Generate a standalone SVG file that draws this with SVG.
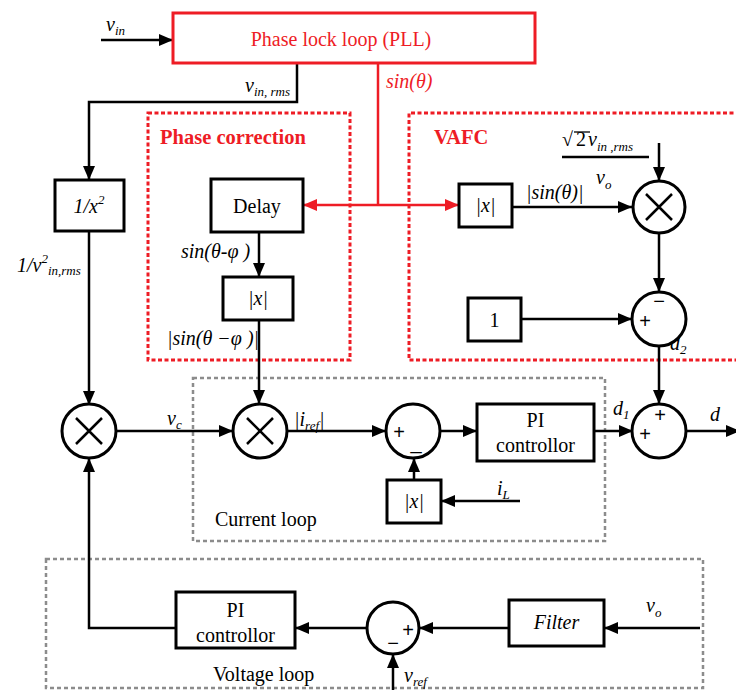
<svg xmlns="http://www.w3.org/2000/svg" width="736" height="690" viewBox="0 0 736 690" font-family="'Liberation Serif', 'Times New Roman', serif">
<style>
svg text{font-family:"Liberation Serif","Times New Roman",serif;fill:#000}
.t{font-size:20px}
.mi{font-size:20px;font-style:italic}
.sub{font-size:13px;font-style:italic}
.red{fill:#ee1c25}
.bold{font-weight:bold;font-size:20.5px}
.box{fill:#fff;stroke:#000;stroke-width:3}
.circ{fill:#fff;stroke:#000;stroke-width:3}
.ln{fill:none;stroke:#000;stroke-width:2.5}
.rln{fill:none;stroke:#ee1c25;stroke-width:2.5}
.rdash{fill:none;stroke:#ee1c25;stroke-width:3;stroke-dasharray:4 2.5}
.gdash{fill:none;stroke:#8c8c8c;stroke-width:2.5;stroke-dasharray:4 3}
svg text.sgn{font-family:"Liberation Sans",Arial,sans-serif;font-size:20px}
</style>
<defs>
<marker id="ah" viewBox="0 0 14 12" refX="14" refY="6" markerWidth="14" markerHeight="12" markerUnits="userSpaceOnUse" orient="auto"><path d="M0,0 L14,6 L0,12 z" fill="#000"/></marker>
<marker id="rah" viewBox="0 0 14 12" refX="14" refY="6" markerWidth="14" markerHeight="12" markerUnits="userSpaceOnUse" orient="auto-start-reverse"><path d="M0,0 L14,6 L0,12 z" fill="#ee1c25"/></marker>
</defs>

<!-- region frames -->
<g id="phase-correction-frame">
<rect class="rdash" x="148" y="113" width="202" height="247"/>
<text class="bold red" x="160" y="144">Phase correction</text>
</g>
<g id="vafc-frame">
<path class="rdash" d="M740,113 H409 V360 H740"/>
<text class="bold red" x="434" y="144">VAFC</text>
</g>
<g id="current-loop-frame">
<rect class="gdash" x="193" y="378" width="412" height="163"/>
<text class="t" x="215" y="526">Current loop</text>
</g>
<g id="voltage-loop-frame">
<rect class="gdash" x="46" y="559" width="657" height="129"/>
<text class="t" x="213" y="681">Voltage loop</text>
</g>

<!-- connectors -->
<g id="connectors">
<line class="ln" x1="101" y1="40" x2="173" y2="40" marker-end="url(#ah)"/>
<path class="ln" d="M297,63 V102 H89 V180" marker-end="url(#ah)"/>
<line class="rln" x1="378" y1="63" x2="378" y2="205"/>
<line class="rln" x1="303" y1="205" x2="459" y2="205" marker-start="url(#rah)" marker-end="url(#rah)"/>
<line class="ln" x1="89" y1="231" x2="89" y2="405" marker-end="url(#ah)"/>
<line class="ln" x1="259" y1="232" x2="259" y2="277" marker-end="url(#ah)"/>
<line class="ln" x1="259" y1="320" x2="259" y2="404" marker-end="url(#ah)"/>
<line class="ln" x1="116" y1="431" x2="233" y2="431" marker-end="url(#ah)"/>
<line class="ln" x1="287" y1="431" x2="386" y2="431" marker-end="url(#ah)"/>
<line class="ln" x1="440" y1="431" x2="477" y2="431" marker-end="url(#ah)"/>
<line class="ln" x1="594" y1="431" x2="633" y2="431" marker-end="url(#ah)"/>
<line class="ln" x1="686" y1="431" x2="740" y2="431" marker-end="url(#ah)"/>
<line class="ln" x1="414" y1="480" x2="414" y2="458" marker-end="url(#ah)"/>
<line class="ln" x1="520" y1="501" x2="441" y2="501" marker-end="url(#ah)"/>
<line class="ln" x1="512" y1="207" x2="632" y2="207" marker-end="url(#ah)"/>
<line class="ln" x1="659" y1="143" x2="659" y2="181" marker-end="url(#ah)"/>
<line class="ln" x1="659" y1="233" x2="659" y2="292" marker-end="url(#ah)"/>
<line class="ln" x1="521" y1="319" x2="632" y2="319" marker-end="url(#ah)"/>
<line class="ln" x1="659" y1="346" x2="659" y2="404" marker-end="url(#ah)"/>
<line class="ln" x1="700" y1="628" x2="604" y2="628" marker-end="url(#ah)"/>
<line class="ln" x1="509" y1="628" x2="419" y2="628" marker-end="url(#ah)"/>
<line class="ln" x1="367" y1="628" x2="295" y2="628" marker-end="url(#ah)"/>
<path class="ln" d="M176,628 H89 V458" marker-end="url(#ah)"/>
<line class="ln" x1="393" y1="690" x2="393" y2="654" marker-end="url(#ah)"/>
<line class="ln" x1="562" y1="157" x2="649" y2="157"/>
</g>

<!-- connector labels -->
<g id="labels">
<text class="mi" x="106" y="31">v<tspan class="sub" dy="4">in</tspan></text>
<text class="mi" x="245" y="92">v<tspan class="sub" dy="4">in, rms</tspan></text>
<text class="mi red" x="386" y="88">sin(θ)</text>
<text class="mi" x="17" y="272">1/v<tspan class="sub" dy="-9">2</tspan><tspan class="sub" dy="12">in,rms</tspan></text>
<text class="mi" x="181" y="258">sin(θ-φ )</text>
<text class="mi" x="167" y="345">|sin(θ −φ )|</text>
<text class="mi" x="526" y="199">|sin(θ)|</text>
<text class="t" x="562" y="146">√</text>
<line x1="574" y1="132" x2="590" y2="132" stroke="#000" stroke-width="1.3"/>
<text class="t" x="576" y="146">2</text>
<text class="mi" x="588" y="146" font-size="22">v<tspan class="sub" dy="5">in ,rms</tspan></text>
<text class="mi" x="596" y="184">v<tspan class="sub" dy="5">o</tspan></text>
<text class="mi" x="670" y="350">d<tspan class="sub" dy="4">2</tspan></text>
<text class="mi" x="613" y="415">d<tspan class="sub" dy="4">1</tspan></text>
<text class="mi" x="710" y="421">d</text>
<text class="mi" x="167" y="425">v<tspan class="sub" dy="4">c</tspan></text>
<text class="mi" x="294" y="426">|i<tspan class="sub" dy="4">ref</tspan><tspan dy="-4">|</tspan></text>
<text class="mi" x="497" y="495">i<tspan class="sub" dy="4">L</tspan></text>
<text class="mi" x="646" y="612">v<tspan class="sub" dy="5">o</tspan></text>
<text class="mi" x="404" y="682">v<tspan class="sub" dy="4">ref</tspan></text>
</g>

<!-- nodes -->
<g id="pll">
<rect x="173" y="13" width="362" height="50" fill="#fff" stroke="#ee1c25" stroke-width="3"/>
<text class="t red" x="341" y="46" text-anchor="middle">Phase lock loop (PLL)</text>
</g>
<g id="inv-square">
<rect class="box" x="55" y="180" width="69" height="51"/>
<text class="mi" x="89" y="213" text-anchor="middle">1/x<tspan class="sub" dy="-9">2</tspan></text>
</g>
<g id="delay">
<rect class="box" x="211" y="179" width="92" height="53"/>
<text class="t" x="257" y="213" text-anchor="middle">Delay</text>
</g>
<g id="abs-phase">
<rect class="box" x="223" y="277" width="70" height="43"/>
<text class="mi" x="258" y="305" text-anchor="middle">|x|</text>
</g>
<g id="abs-vafc">
<rect class="box" x="459" y="184" width="53" height="43"/>
<text class="mi" x="485.5" y="212" text-anchor="middle">|x|</text>
</g>
<g id="mult-vafc">
<circle class="circ" cx="659" cy="207" r="26"/>
<path class="ln" d="M646,194 L672,220 M672,194 L646,220"/>
</g>
<g id="one">
<rect class="box" x="468" y="298" width="53" height="43"/>
<text class="t" x="494.5" y="327" text-anchor="middle">1</text>
</g>
<g id="sub-vafc">
<circle class="circ" cx="659" cy="319" r="27"/>
<text class="sgn" x="659" y="308" text-anchor="middle">−</text>
<text class="sgn" x="645" y="328" text-anchor="middle">+</text>
</g>
<g id="mult-left">
<circle class="circ" cx="89" cy="431" r="27"/>
<path class="ln" d="M76,418 L102,444 M102,418 L76,444"/>
</g>
<g id="mult-current">
<circle class="circ" cx="260" cy="431" r="27"/>
<path class="ln" d="M247,418 L273,444 M273,418 L247,444"/>
</g>
<g id="sub-current">
<circle class="circ" cx="413" cy="431" r="27"/>
<text class="sgn" x="399" y="439" text-anchor="middle">+</text>
<text class="sgn" x="416" y="449" text-anchor="middle">_</text>
</g>
<g id="pi-current">
<rect class="box" x="477" y="404" width="117" height="57"/>
<text class="t" x="535.5" y="427" text-anchor="middle">PI</text>
<text class="t" x="535.5" y="452" text-anchor="middle">controllor</text>
</g>
<g id="sum-out">
<circle class="circ" cx="659" cy="431" r="27"/>
<text class="sgn" x="660" y="422" text-anchor="middle">+</text>
<text class="sgn" x="645" y="441" text-anchor="middle">+</text>
</g>
<g id="abs-current">
<rect class="box" x="387" y="480" width="54" height="43"/>
<text class="mi" x="414" y="508" text-anchor="middle">|x|</text>
</g>
<g id="pi-voltage">
<rect class="box" x="176" y="592" width="119" height="56"/>
<text class="t" x="235.5" y="617" text-anchor="middle">PI</text>
<text class="t" x="235.5" y="642" text-anchor="middle">controllor</text>
</g>
<g id="sub-voltage">
<circle class="circ" cx="393" cy="628" r="26"/>
<text class="sgn" x="408" y="637" text-anchor="middle">+</text>
<text class="sgn" x="393" y="650" text-anchor="middle">−</text>
</g>
<g id="filter">
<rect class="box" x="509" y="600" width="95" height="46"/>
<text class="mi" x="556.5" y="629" text-anchor="middle">Filter</text>
</g>
</svg>
